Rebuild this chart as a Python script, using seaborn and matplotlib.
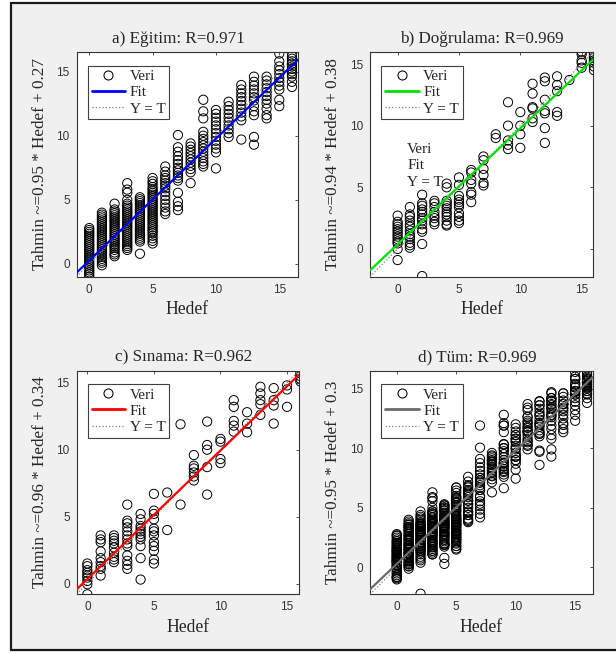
import numpy as np
import pandas as pd
import seaborn as sns
import matplotlib.pyplot as plt
from matplotlib.lines import Line2D
from matplotlib.patches import Rectangle

sns.set_theme(style="white")
plt.rcParams['font.family'] = ['Liberation Serif', 'DejaVu Serif']

# Target values (Hedef); each prediction list below is indexed by target
hedef_degerleri = list(range(17))

egitim_tahmin = [
    [2.8, 2.65, 2.5, 2.35, 2.2, 2.05, 1.9, 1.75, 1.6, 1.45, 1.3, 1.15, 1.0, 0.85, 0.7, 0.55, 0.4, 0.25, 0.1, -0.05, -0.2, -0.35, -0.5, -0.65, -0.8, -1.0],
    [4.0, 3.85, 3.7, 3.55, 3.4, 3.25, 3.1, 2.95, 2.8, 2.65, 2.5, 2.35, 2.2, 2.05, 1.9, 1.75, 1.6, 1.45, 1.3, 1.15, 1.0, 0.85, 0.7, 0.55, 0.4, 0.25, 0.1, -0.1],
    [4.7, 4.25, 4.1, 3.95, 3.8, 3.65, 3.5, 3.35, 3.2, 3.05, 2.9, 2.75, 2.6, 2.45, 2.3, 2.15, 2.0, 1.85, 1.7, 1.55, 1.4, 1.25, 1.1, 0.9, 0.75, 0.6],
    [6.3, 5.8, 5.55, 5.0, 4.7, 4.55, 4.4, 4.25, 4.1, 3.95, 3.8, 3.65, 3.5, 3.35, 3.2, 3.05, 2.9, 2.75, 2.6, 2.45, 2.3, 2.15, 2.0, 1.85, 1.7, 1.55, 1.4, 1.25, 1.1],
    [5.2, 5.05, 4.9, 4.75, 4.6, 4.45, 4.3, 4.15, 4.0, 3.85, 3.7, 3.55, 3.4, 3.25, 3.1, 2.95, 2.8, 2.65, 2.5, 2.35, 2.2, 2.05, 1.9, 1.75, 0.8],
    [6.7, 6.45, 6.25, 6.0, 5.85, 5.7, 5.55, 5.4, 5.25, 5.1, 4.95, 4.8, 4.65, 4.5, 4.35, 4.2, 4.05, 3.9, 3.75, 3.6, 3.45, 3.3, 3.15, 3.0, 2.85, 2.7, 2.55, 2.4, 2.2, 2.0, 1.8, 1.6],
    [7.6, 7.2, 6.9, 6.7, 6.5, 6.3, 6.1, 5.9, 5.6, 5.3, 5.0, 4.7, 4.4, 4.1, 3.9],
    [10.05, 9.1, 8.75, 8.4, 8.1, 7.8, 7.5, 7.3, 7.1, 6.9, 6.7, 6.5, 5.55, 4.85, 4.5, 4.2],
    [9.4, 9.15, 8.9, 8.65, 8.4, 8.15, 7.9, 7.65, 7.4, 7.15, 6.3],
    [12.8, 11.9, 11.35, 10.3, 10.0, 9.75, 9.5, 9.25, 9.0, 8.75, 8.5, 8.25, 8.0, 7.8, 7.6],
    [12.0, 11.7, 11.4, 11.1, 10.8, 10.5, 10.2, 9.9, 9.6, 9.3, 9.0, 8.7, 7.45],
    [12.65, 12.3, 12.0, 11.7, 11.4, 11.1, 10.8, 10.5, 10.2, 9.9],
    [13.95, 13.6, 13.3, 13.0, 12.7, 12.4, 12.1, 11.8, 11.5, 11.2, 9.7],
    [14.6, 14.2, 13.9, 13.6, 13.3, 13.0, 12.75, 12.3, 11.9, 11.6, 9.9, 9.3],
    [14.6, 14.3, 14.0, 13.7, 13.4, 13.1, 12.8, 12.5, 12.1, 11.6, 11.35],
    [16.4, 15.8, 15.4, 15.1, 14.8, 14.5, 14.2, 13.9, 13.6, 12.8, 12.3],
    [16.4, 16.2, 16.0, 15.8, 15.6, 15.4, 15.2, 15.0, 14.8, 14.6, 14.2, 13.8],
]

dogrulama_tahmin = [
    [2.7, 2.2, 2.0, 1.8, 1.6, 1.4, 1.2, 1.0, 0.8, 0.6, 0.45, 0.0, -0.9],
    [3.4, 2.8, 2.6, 2.3, 2.0, 1.8, 1.5, 1.2, 1.0, 0.8, 0.5, 0.3, 0.1],
    [4.4, 3.7, 3.5, 3.2, 3.0, 2.8, 2.5, 2.3, 2.0, 1.6, 1.4, 0.4, -2.2],
    [3.9, 3.7, 3.4, 3.0, 2.7, 2.5, 2.2, 2.0],
    [5.3, 5.0, 3.9, 3.7, 3.5, 3.3, 3.0, 2.8, 2.6, 2.3, 2.0, 1.9],
    [5.8, 5.2, 4.3, 4.0, 3.8, 3.6, 3.4, 2.9, 2.6, 2.3, 2.1],
    [6.4, 6.2, 5.6, 5.3, 4.6, 4.4, 3.8],
    [7.5, 7.2, 6.5, 6.0, 5.35, 5.15],
    [9.3, 9.0],
    [11.9, 10.0, 8.8, 8.45, 8.1],
    [11.1, 10.0, 9.3, 8.2],
    [13.4, 12.6, 11.5, 11.4, 10.6, 10.3],
    [13.9, 13.6, 12.1, 11.2, 11.0, 9.8, 8.6],
    [14.0, 13.3, 12.8, 11.1, 10.8],
    [13.7],
    [16.0, 15.8, 15.3, 15.1, 14.7],
    [15.9, 15.7, 15.5, 15.3, 15.1, 14.8, 14.5],
]

sinama_tahmin = [
    [1.5, 1.3, 1.0, 0.8, 0.6, 0.45, 0.2, -0.05, -0.8],
    [3.6, 3.3, 3.1, 2.4, 1.9, 1.6, 1.3, 1.1, 0.6],
    [3.6, 3.4, 3.2, 3.0, 2.7, 2.3, 2.0, 1.8, 1.6],
    [5.9, 4.7, 4.5, 4.2, 3.9, 3.6, 3.3, 3.0, 2.8, 2.1, 1.7, 1.4, 1.1],
    [5.2, 4.8, 4.3, 4.1, 3.9, 3.7, 3.5, 3.3, 2.8, 1.9, 0.3],
    [6.7, 5.45, 5.2, 4.8, 4.1, 3.9, 3.6, 3.1, 2.8, 2.45, 1.8, 1.5],
    [6.8, 4.0],
    [11.9, 5.9],
    [9.6, 8.8, 8.6, 8.3, 8.0, 7.7],
    [12.1, 10.35, 10.0, 8.7, 6.65],
    [10.8, 10.6, 9.3, 9.0],
    [13.7, 13.2, 12.15, 11.8, 11.35],
    [12.8, 11.95, 11.3],
    [14.7, 14.2, 13.7, 13.4, 12.6],
    [14.6, 13.7, 13.3, 11.95],
    [14.8, 14.5, 13.2],
    [15.7, 15.5, 15.3, 15.1],
]

panel_titles = ["a) Eğitim: R=0.971", "b) Doğrulama: R=0.969",
                "c) Sınama: R=0.962", "d) Tüm: R=0.969"]
fit_slopes = [0.95, 0.94, 0.96, 0.95]
fit_intercepts = [0.27, 0.38, 0.34, 0.3]
fit_colors = ["#0000ff", "#00e000", "#ff0000", "#6b6b6b"]
axis_limits = [(-0.99, 16.5), (-2.25, 15.95), (-0.8, 15.9), (-2.25, 16.5)]
tick_values = [0, 5, 10, 15]
legend_labels = ["Veri", "Fit", "Y = T"]


def to_frame(groups):
    rows = [(h, t) for h, vals in zip(hedef_degerleri, groups) for t in vals]
    return pd.DataFrame(rows, columns=["Hedef", "Tahmin"])


egitim = to_frame(egitim_tahmin)
dogrulama = to_frame(dogrulama_tahmin)
sinama = to_frame(sinama_tahmin)
tum = pd.concat([egitim, dogrulama, sinama], ignore_index=True)
frames = [egitim, dogrulama, sinama, tum]

W, H = 616, 653
fig = plt.figure(figsize=(W / 100, H / 100), dpi=100, facecolor="white")

# gray window panel with dark border
fig.patches.append(Rectangle((11 / W, 1 - 650 / H), 1.0, 647 / H,
                             transform=fig.transFigure, facecolor="#f0f0f0",
                             edgecolor="#1a1a1a", linewidth=1.6, zorder=-1))

# axes boxes in pixels: left, top, width, height
boxes = [(76.7, 52.3, 221.6, 224.4), (370, 52.3, 223.3, 224.4),
         (76.7, 370.7, 222.3, 223.6), (370, 370.7, 223.0, 223.6)]
title_x = [0.46, 0.50, 0.48, 0.48]

for i, (df, box) in enumerate(zip(frames, boxes)):
    l, t, w, h = box
    ax = fig.add_axes([l / W, 1 - (t + h) / H, w / W, h / H])
    ax.set_facecolor("white")
    lo, hi = axis_limits[i]
    xs = np.array([lo, hi])

    sns.scatterplot(data=df, x="Hedef", y="Tahmin", ax=ax, marker="o", s=44,
                    facecolor="none", edgecolor="black", linewidth=0.7,
                    legend=False, zorder=2)
    ax.plot(xs, xs, ls=":", color="#808080", lw=0.9, zorder=3)
    ax.plot(xs, fit_slopes[i] * xs + fit_intercepts[i], color=fit_colors[i],
            lw=1.6, zorder=4)

    ax.set_xlim(lo, hi)
    ax.set_ylim(lo, hi)
    ax.set_xticks(tick_values)
    ax.set_yticks(tick_values)
    ax.tick_params(direction="in", top=True, right=True, length=2.5, width=0.6,
                   color="#333333", labelcolor="#333333", labelsize=8.5,
                   labelfontfamily="Liberation Sans", pad=5)
    for sp in ax.spines.values():
        sp.set_color("#333333")
        sp.set_linewidth(0.8)

    ax.set_xlabel("Hedef", fontsize=12.7, labelpad=4)
    ax.set_ylabel(f"Tahmin ~={fit_slopes[i]:g} * Hedef + {fit_intercepts[i]:g}",
                  fontsize=12.3, labelpad=6)
    ax.set_title(panel_titles[i], fontsize=12.3, x=title_x[i], pad=7)

    handles = [
        Line2D([], [], ls="none", marker="o", mfc="none", mec="black", ms=6.5, mew=0.75),
        Line2D([], [], color=fit_colors[i], lw=2),
        Line2D([], [], color="#808080", ls=":", lw=0.9),
    ]
    leg = ax.legend(handles, legend_labels, loc="upper left",
                    bbox_to_anchor=(0.05, 0.94), borderaxespad=0, fontsize=11,
                    frameon=True, fancybox=False, edgecolor="#404040",
                    framealpha=1, handlelength=2.2, handletextpad=0.3,
                    labelspacing=0.16, borderpad=0.25)
    leg.get_frame().set_linewidth(0.8)

    if i == 1:
        for label, yy in zip(legend_labels, [0.565, 0.495, 0.419]):
            ax.text(0.166, yy, label, transform=ax.transAxes, fontsize=11,
                    ha="left", va="center")

fig.savefig("out.png", dpi=100, facecolor="white")
